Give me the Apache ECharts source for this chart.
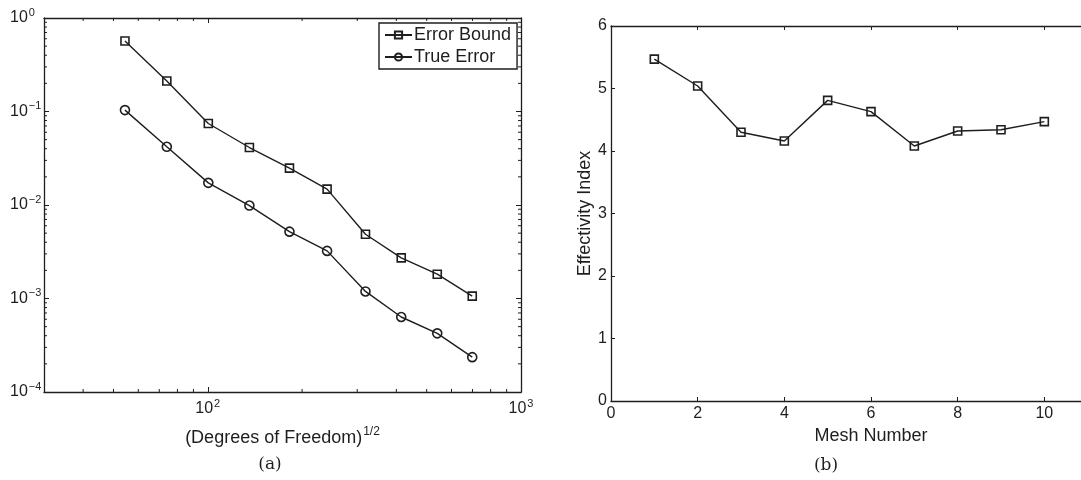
<!DOCTYPE html>
<html>
<head>
<meta charset="utf-8">
<script src="https://cdn.jsdelivr.net/npm/echarts@6/dist/echarts.min.js"></script>
<style>
  html, body { margin: 0; padding: 0; background: #fff; }
  #chart { width: 1081px; height: 480px; }
</style>
</head>
<body>
<div id="chart"></div>
<script>
// (a) error vs sqrt(DOF), log-log
const dofSqrt = [54.4, 74.0, 100.4, 135.8, 182.3, 240.4, 318.8, 414.6, 540.3, 698.8];
const errorBound = [0.567, 0.212, 0.0744, 0.0412, 0.0248, 0.0148, 0.00487, 0.00272, 0.00182, 0.00106];
const trueError = [0.1035, 0.0419, 0.01725, 0.00986, 0.00519, 0.00323, 0.00119, 0.000634, 0.000424, 0.000236];

// (b) effectivity index per mesh
const meshNumber = [1, 2, 3, 4, 5, 6, 7, 8, 9, 10];
const effectivity = [5.47, 5.04, 4.30, 4.16, 4.81, 4.63, 4.08, 4.32, 4.34, 4.47];

// axis ranges and minor ticks of the log panel
const xLogRange = [30, 1000];
const yLogRange = [1e-4, 1];
const xMinorTicks = [40, 50, 60, 70, 80, 90, 200, 300, 400, 500, 600, 700, 800, 900];
const yMinorTicks = [];
for (const d of [1e-4, 1e-3, 1e-2, 1e-1]) {
  for (const m of [2, 3, 4, 5, 6, 7, 8, 9]) yMinorTicks.push(+(m * d).toPrecision(3));
}

const ink = "#1e1e1e";
const font = "Liberation Sans, Arial, sans-serif";

const powLabel = (v) => {
  const l = Math.log10(v);
  const r = Math.round(l);
  if (Math.abs(l - r) > 1e-6) return "";
  return "{b|10}{e|" + String(r).replace("-", "\u2212") + "}";
};
const powRich = {
  b: { fontSize: 16, fontFamily: font, color: ink },
  e: { fontSize: 11, fontFamily: font, color: ink, padding: [0, 0, 11, 1] },
};

const frameLine = { show: true, onZero: false, lineStyle: { color: ink, width: 1.3 } };

function logXAxis(pos, withLabel) {
  return {
    type: "log", logBase: 10, gridIndex: 0, position: pos,
    min: xLogRange[0], max: xLogRange[1],
    axisLine: frameLine,
    axisTick: { show: true, inside: true, length: 5, lineStyle: { color: ink, width: 1 } },
    axisLabel: withLabel
      ? { show: true, margin: 6, fontSize: 16, fontFamily: font, color: ink, formatter: powLabel, rich: powRich }
      : { show: false },
    splitLine: { show: false },
    name: withLabel ? "{t|(Degrees of Freedom)}{s|1/2}" : "",
    nameLocation: "middle",
    nameGap: 34,
    nameTextStyle: {
      fontSize: 18,
      fontFamily: font,
      color: ink,
      rich: {
        t: { fontSize: 18, fontFamily: font, color: ink },
        s: { fontSize: 12, fontFamily: font, color: ink, padding: [0, 0, 12, 1] },
      },
    },
  };
}

function logYAxis(pos, withLabel) {
  return {
    type: "log", logBase: 10, gridIndex: 0, position: pos,
    min: yLogRange[0], max: yLogRange[1],
    axisLine: frameLine,
    axisTick: { show: true, inside: true, length: 5, lineStyle: { color: ink, width: 1 } },
    axisLabel: withLabel
      ? { show: true, margin: 34, align: "left", fontSize: 16, fontFamily: font, color: ink, formatter: powLabel, rich: powRich }
      : { show: false },
    splitLine: { show: false },
  };
}

// short inward minor ticks drawn through the log axes
function minorTicks(values, dir) {
  return {
    type: "custom",
    xAxisIndex: 0,
    yAxisIndex: 0,
    silent: true,
    z: 3,
    data: values.map((v) => (dir === "x" ? [v, yLogRange[0]] : [xLogRange[0], v])),
    renderItem: (params, api) => {
      const style = { stroke: ink, lineWidth: 1 };
      if (dir === "x") {
        const v = api.value(0);
        const a = api.coord([v, yLogRange[0]]);
        const b = api.coord([v, yLogRange[1]]);
        return {
          type: "group",
          children: [
            { type: "line", shape: { x1: a[0], y1: a[1], x2: a[0], y2: a[1] - 3 }, style },
            { type: "line", shape: { x1: b[0], y1: b[1], x2: b[0], y2: b[1] + 3 }, style },
          ],
        };
      }
      const v = api.value(1);
      const a = api.coord([xLogRange[0], v]);
      const b = api.coord([xLogRange[1], v]);
      return {
        type: "group",
        children: [
          { type: "line", shape: { x1: a[0], y1: a[1], x2: a[0] + 3, y2: a[1] }, style },
          { type: "line", shape: { x1: b[0], y1: b[1], x2: b[0] - 3, y2: b[1] }, style },
        ],
      };
    },
  };
}

function linXAxis(pos, withLabel) {
  return {
    type: "value", gridIndex: 1, position: pos,
    min: 0, max: 12, interval: 2,
    axisLine: frameLine,
    axisTick: { show: true, inside: true, length: 4, lineStyle: { color: ink, width: 1 } },
    axisLabel: withLabel
      ? { show: true, margin: 5, fontSize: 16, fontFamily: font, color: ink }
      : { show: false },
    splitLine: { show: false },
    name: withLabel ? "Mesh Number" : "",
    nameLocation: "middle",
    nameGap: 23,
    nameTextStyle: { fontSize: 18, fontFamily: font, color: ink },
  };
}

const lineSeries = (name, x, y, symbol, size, xi, yi) => ({
  name,
  type: "line",
  xAxisIndex: xi,
  yAxisIndex: yi,
  data: x.map((v, i) => [v, y[i]]),
  symbol,
  symbolSize: size,
  showAllSymbol: true,
  silent: true,
  z: 4,
  lineStyle: { color: ink, width: 1.4 },
  itemStyle: { color: "rgba(255,255,255,0)", borderColor: ink, borderWidth: 1.6 },
  emphasis: { disabled: true },
});

const chart = echarts.init(document.getElementById("chart"), null, { renderer: "canvas" });

const option = {
  animation: false,
  backgroundColor: "#fff",
  grid: [
    { left: 44, right: 560, top: 18, bottom: 88, outerBoundsMode: "none" },
    { left: 611, right: -50, top: 26, bottom: 79, outerBoundsMode: "none" },
  ],
  legend: {
    data: ["Error Bound", "True Error"],
    orient: "vertical",
    left: 379,
    top: 23,
    padding: [3, 6, 3, 5],
    itemGap: 4,
    itemWidth: 27,
    itemHeight: 9,
    borderColor: ink,
    borderWidth: 1.4,
    backgroundColor: "#fff",
    selectedMode: false,
    textStyle: { fontSize: 18, fontFamily: font, color: ink, padding: [0, 0, 0, -3] },
  },
  xAxis: [
    logXAxis("bottom", true),
    logXAxis("top", false),
    linXAxis("bottom", true),
    linXAxis("top", false),
  ],
  yAxis: [
    logYAxis("left", true),
    logYAxis("right", false),
    {
      type: "value", gridIndex: 1, position: "left",
      min: 0, max: 6, interval: 1,
      axisLine: frameLine,
      axisTick: { show: true, inside: true, length: 4, lineStyle: { color: ink, width: 1 } },
      axisLabel: { show: true, margin: 4, fontSize: 16, fontFamily: font, color: ink },
      splitLine: { show: false },
      name: "Effectivity Index",
      nameLocation: "middle",
      nameRotate: 90,
      nameGap: 17,
      nameTextStyle: { fontSize: 18, fontFamily: font, color: ink },
    },
  ],
  graphic: [
    { type: "text", x: 270, y: 465, style: { text: "(a)", fontSize: 17, fontFamily: "DejaVu Serif, Liberation Serif, serif", fill: ink, textAlign: "center", textVerticalAlign: "middle" } },
    { type: "text", x: 826, y: 466, style: { text: "(b)", fontSize: 17, fontFamily: "DejaVu Serif, Liberation Serif, serif", fill: ink, textAlign: "center", textVerticalAlign: "middle" } },
  ],
  series: [
    minorTicks(xMinorTicks, "x"),
    minorTicks(yMinorTicks, "y"),
    lineSeries("Error Bound", dofSqrt, errorBound, "rect", 8, 0, 0),
    lineSeries("True Error", dofSqrt, trueError, "circle", 9, 0, 0),
    lineSeries("Effectivity", meshNumber, effectivity, "rect", 8, 2, 2),
  ],
};

chart.setOption(option);
window.addEventListener("resize", () => chart.resize());
</script>
</body>
</html>
